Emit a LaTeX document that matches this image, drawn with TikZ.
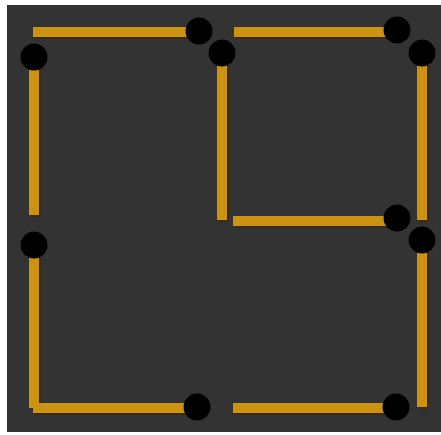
\documentclass[tikz,border=0pt]{standalone}
\definecolor{bgdark}{RGB}{51,51,51}
\definecolor{matchgold}{RGB}{204,146,18}
\definecolor{shadowbrown}{RGB}{60,42,20}
\begin{document}
\begin{tikzpicture}[x=1pt,y=-1pt,
  stick/.style={line width=10pt, draw=matchgold},
  stickshadow/.style={line width=10pt, draw=shadowbrown},
  matchhead/.style={fill=black}]
\useasboundingbox (0,0) rectangle (441,434);
\fill[white] (0,0) rectangle (441,434);
\fill[bgdark] (7,5) rectangle (441,432);
% shadows
\begin{scope}[shift={(1.5,2)}]
\draw[stickshadow] (33,32) -- (198,32);
\draw[stickshadow] (234,32) -- (397,32);
\draw[stickshadow] (34,57) -- (34,215);
\draw[stickshadow] (34,245) -- (34,408);
\draw[stickshadow] (222,53) -- (222,220);
\draw[stickshadow] (422,53) -- (422,220);
\draw[stickshadow] (233,221) -- (397,221);
\draw[stickshadow] (422,240) -- (422,407);
\draw[stickshadow] (33,408) -- (197,408);
\draw[stickshadow] (233,408) -- (396,408);
\end{scope}
% sticks
\draw[stick] (33,32) -- (198,32);
\draw[stick] (234,32) -- (397,32);
\draw[stick] (34,57) -- (34,215);
\draw[stick] (34,245) -- (34,408);
\draw[stick] (222,53) -- (222,220);
\draw[stick] (422,53) -- (422,220);
\draw[stick] (233,221) -- (397,221);
\draw[stick] (422,240) -- (422,407);
\draw[stick] (33,408) -- (197,408);
\draw[stick] (233,408) -- (396,408);
% heads
\fill[matchhead] (199,31) circle (13.5);
\fill[matchhead] (222,53) circle (13.5);
\fill[matchhead] (397,30) circle (13.5);
\fill[matchhead] (422,53) circle (13.5);
\fill[matchhead] (34,57) circle (13.5);
\fill[matchhead] (34,245) circle (13.5);
\fill[matchhead] (397,218) circle (13.5);
\fill[matchhead] (422,240) circle (13.5);
\fill[matchhead] (197,407) circle (13.5);
\fill[matchhead] (396,407) circle (13.5);
\end{tikzpicture}
\end{document}
